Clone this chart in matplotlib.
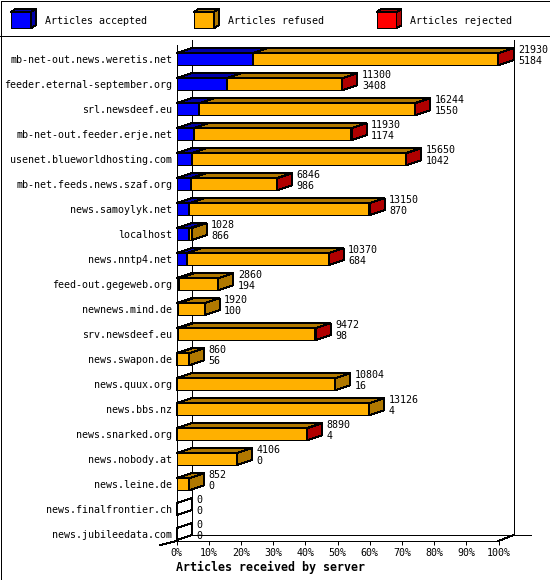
"""Articles received by server - stacked 3D-style bar chart (innreport style)
"""

import matplotlib
matplotlib.use("Agg")
import matplotlib.pyplot as plt
from matplotlib.patches import Polygon, Rectangle

servers = [
    "mb-net-out.news.weretis.net", "feeder.eternal-september.org",
    "srl.newsdeef.eu", "mb-net-out.feeder.erje.net",
    "usenet.blueworldhosting.com", "mb-net.feeds.news.szaf.org",
    "news.samoylyk.net", "localhost", "news.nntp4.net",
    "feed-out.gegeweb.org", "newnews.mind.de", "srv.newsdeef.eu",
    "news.swapon.de", "news.quux.org", "news.bbs.nz", "news.snarked.org",
    "news.nobody.at", "news.leine.de", "news.finalfrontier.ch",
    "news.jubileedata.com",
]
offered = [21930, 11300, 16244, 11930, 15650, 6846, 13150, 1028, 10370, 2860,
           1920, 9472, 860, 10804, 13126, 8890, 4106, 852, 0, 0]
accepted = [5184, 3408, 1550, 1174, 1042, 986, 870, 866, 684, 194,
            100, 98, 56, 16, 4, 4, 0, 0, 0, 0]
# refused / rejected are not printed on the chart; estimated from the bars
refused = [16711, 7867, 14664, 10736, 14583, 5845, 12260, 162, 9676, 2666,
           1820, 9362, 804, 10788, 13122, 8878, 4106, 852, 0, 0]
rejected = [35, 25, 30, 20, 25, 15, 20, 0, 10, 0,
            0, 12, 0, 0, 0, 8, 0, 0, 0, 0]
series = ["Articles accepted", "Articles refused", "Articles rejected"]
x_ticks = [0, 10, 20, 30, 40, 50, 60, 70, 80, 90, 100]

front_colors = ["#0000FF", "#FFB000", "#FF0000"]
dark_colors = ["#0000A8", "#B07800", "#B00000"]

FONT = "DejaVu Sans Mono"
plt.rcParams["font.family"] = FONT
plt.rcParams["font.size"] = 7.2

W, H = 550, 580
LW = 0.72

fig = plt.figure(figsize=(5.5, 5.8), dpi=100)
fig.patch.set_facecolor("white")

# front plane of the plot, in pixels
x0, x1 = 176.5, 498.5
y_top, y_bot = 45.0, 541.0
pitch = 25.0
first_row = 59.2

ax = fig.add_axes([x0 / W, 1 - y_bot / H, (x1 - x0) / W, (y_bot - y_top) / H])
px_pct = (x1 - x0) / 100.0
ylim_top = -(first_row - y_top) / pitch
ylim_bot = (y_bot - first_row) / pitch
ax.set_xlim(0, 100)
ax.set_ylim(ylim_bot, ylim_top)

dx = 15 / px_pct      # depth, in % units
dy = 5 / pitch        # depth, in row units
half = 6 / pitch      # half height of the front face


def face(pts, color):
    ax.add_patch(Polygon(pts, closed=True, facecolor=color, edgecolor="black",
                         lw=LW, antialiased=False, clip_on=False, zorder=3))


def box(a, b, yc, cf, cd):
    t, bt = yc - half, yc + half
    if b <= a:
        # empty bar: only the outline of the depth is drawn
        cf = cd = "none"
    face([(a, bt), (b, bt), (b, t), (a, t)], cf)
    face([(a, t), (b, t), (b + dx, t - dy), (a + dx, t - dy)], cd)
    face([(b, bt), (b, t), (b + dx, t - dy), (b + dx, bt - dy)], cd)


scale = 100.0 / max(offered)
for i in range(len(servers)):
    vals = [accepted[i], refused[i], rejected[i]]
    left = 0.0
    for k, v in enumerate(vals):
        w = v * scale
        if v > 0 or (k == 0 and offered[i] == 0):
            box(left, left + w, i, front_colors[k], dark_colors[k])
        left += w
    ax.annotate(str(offered[i]), (left, i), xytext=(dx * px_pct + 4.5, 9),
                textcoords="offset pixels", va="center", ha="left")
    ax.annotate(str(accepted[i]), (left, i), xytext=(dx * px_pct + 4.5, -2),
                textcoords="offset pixels", va="center", ha="left")

# back walls
yb_top = ylim_top - 5 / pitch
yb_bot = ylim_bot - 6 / pitch
kw = dict(color="black", lw=LW, clip_on=False, antialiased=False, zorder=1)
ax.plot([dx, dx], [yb_top, yb_bot], **kw)
ax.plot([100 + dx, 100 + dx], [yb_top, yb_bot], **kw)
ax.plot([dx, (531 - x0) / px_pct], [yb_bot, yb_bot], **kw)
ax.plot([100, 100 + dx], [ylim_bot, yb_bot], **kw)
ax.plot([0, -16 / px_pct], [ylim_bot, ylim_bot + 4 / pitch], **kw)

for s in ("top", "right"):
    ax.spines[s].set_visible(False)
for s in ("left", "bottom"):
    ax.spines[s].set_linewidth(LW)
    ax.spines[s].set_antialiased(False)

ax.set_xticks(x_ticks, [f"{t}%" for t in x_ticks])
ax.set_yticks(range(len(servers)), servers)
ax.tick_params(axis="x", length=2.9, width=LW, pad=2)
ax.tick_params(axis="y", length=0, pad=3.2)
ax.set_xlabel("Articles received by server", loc="left", fontsize=8.4,
              fontweight="bold", labelpad=2.5)

# legend strip
lax = fig.add_axes([0, 1 - 36 / H, 1, 36 / H])
lax.set_xlim(0, W)
lax.set_ylim(36, 0)
lax.axis("off")
for k, (name, xl) in enumerate(zip(series, [10.7, 193.7, 376.5])):
    xr, yt, yb = xl + 20, 12, 28.3
    for pts, c in [([(xl, yb), (xr, yb), (xr, yt), (xl, yt)], front_colors[k]),
                   ([(xl, yt), (xr, yt), (xr + 5, yt - 3), (xl + 5, yt - 3)], dark_colors[k]),
                   ([(xr, yb), (xr, yt), (xr + 5, yt - 3), (xr + 5, yb - 3)], dark_colors[k])]:
        lax.add_patch(Polygon(pts, closed=True, facecolor=c, edgecolor="black",
                              lw=LW, antialiased=False, clip_on=False))
    lax.text(xl + 34, 20.5, name, va="center", ha="left")
lax.plot([0, W], [35.5, 35.5], color="black", lw=LW, antialiased=False, clip_on=False)

# outer frame
fig.add_artist(Rectangle((0.5 / W, 0.5 / H), (W - 1) / W, (H - 1) / H,
                         transform=fig.transFigure, fill=False, edgecolor="black",
                         lw=LW, antialiased=False))

plt.savefig("out.png", dpi=100)
